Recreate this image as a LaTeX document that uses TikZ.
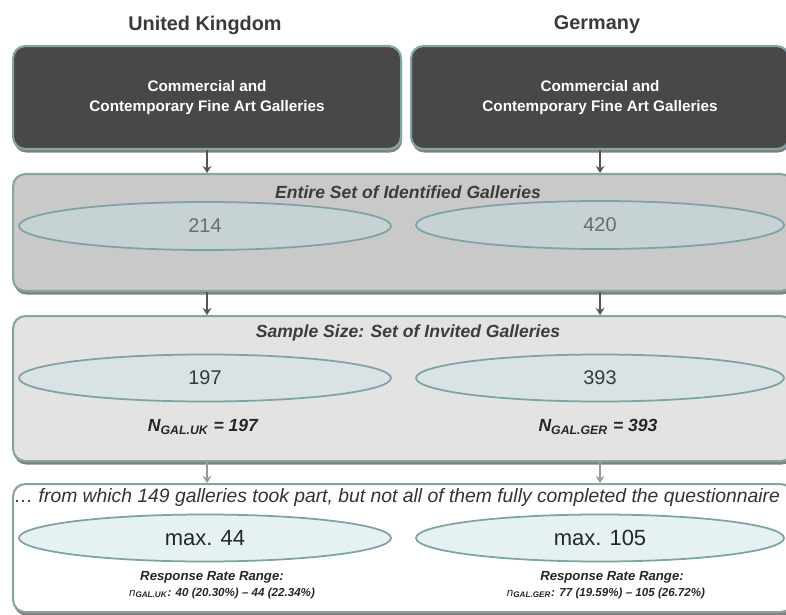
\documentclass[tikz,border=0pt]{standalone}
\usepackage{fontspec}
\setmainfont{Liberation Sans}
\usetikzlibrary{shadows,arrows.meta,shapes.geometric}

\definecolor{headtext}{HTML}{3A3A3A}
\definecolor{darkfill}{HTML}{484848}
\definecolor{rimcol}{HTML}{86A3A5}
\definecolor{grayfill}{HTML}{C9C9C9}
\definecolor{lightfill}{HTML}{E3E3E3}
\definecolor{ellrim}{HTML}{7FA3A5}
\definecolor{ellA}{HTML}{C6D2D4}
\definecolor{ellB}{HTML}{D9E3E5}
\definecolor{ellC}{HTML}{E6F1F1}
\definecolor{titletext}{HTML}{3C3C3C}
\definecolor{arrowdark}{HTML}{555555}
\definecolor{arrowlight}{HTML}{9A9A9A}

\newcommand{\fs}[1]{\fontsize{#1}{#1}\selectfont}

\begin{document}
\begin{tikzpicture}[x=0.02cm,y=-0.02cm,
  panel/.style={draw=rimcol, line width=1.2pt, rounded corners=7pt,
    anchor=north west, inner sep=0pt,
    drop shadow={shadow xshift=0.6pt, shadow yshift=-2pt, opacity=0.7, fill=black!70}},
  heading/.style={font=\fs{11.3pt}\bfseries, text=headtext},
  oval/.style={ellipse, draw=ellrim, line width=1pt, inner sep=0pt},
  paneltitle/.style={font=\fs{10pt}\bfseries\itshape, text=titletext},
  count/.style={font=\fs{11.3pt}},
  note/.style={font=\fs{7.5pt}\bfseries\itshape, text=black!85},
  flowarrow/.style={line width=1.2pt, -{Stealth[length=4pt,width=5pt]}},
]
\useasboundingbox (0,0) rectangle (786,614);

% column headings
\node[heading] (hUK) at (205,25) {United Kingdom};
\node[heading] (hGER) at (597,25) {Germany};

% source populations
\node[panel, fill=darkfill, minimum width=388*0.02cm, minimum height=103*0.02cm] (srcUK) at (12,45) {};
\node[panel, fill=darkfill, minimum width=378*0.02cm, minimum height=103*0.02cm] (srcGER) at (410,45) {};
\node[font=\fs{8.7pt}\bfseries, text=white, align=center] (srcUKt) at (srcUK.center) {Commercial and\\[3pt]Contemporary Fine Art Galleries};
\node[font=\fs{8.7pt}\bfseries, text=white, align=center] (srcGERt) at (srcGER.center) {Commercial and\\[3pt]Contemporary Fine Art Galleries};

% entire set of identified galleries
\node[panel, fill=grayfill, minimum width=780*0.02cm, minimum height=117*0.02cm] (ident) at (12,173) {};
\node[paneltitle] (identT) at (408,192) {Entire Set of Identified Galleries};
\node[oval, fill=ellA, minimum width=372*0.02cm, minimum height=48*0.02cm] (idUK) at (205,226) {};
\node[oval, fill=ellA, minimum width=368*0.02cm, minimum height=48*0.02cm] (idGER) at (600,225) {};
\node[count, text=black!58] (idUKn) at (idUK.center) {214};
\node[count, text=black!58] (idGERn) at (idGER.center) {420};

% invited galleries
\node[panel, fill=lightfill, minimum width=780*0.02cm, minimum height=145*0.02cm] (inv) at (12,315) {};
\node[paneltitle] (invT) at (408,333) {Sample Size: Set of Invited Galleries};
\node[oval, fill=ellB, minimum width=372*0.02cm, minimum height=47*0.02cm] (invUK) at (205,378) {};
\node[oval, fill=ellB, minimum width=368*0.02cm, minimum height=47*0.02cm] (invGER) at (600,378) {};
\node[count, text=black!78] (invUKn) at (invUK.center) {197};
\node[count, text=black!78] (invGERn) at (invGER.center) {393};
\node[font=\fs{10pt}\bfseries\itshape, text=black!85] (nUK) at (203,427) {N\textsubscript{GAL.UK} = 197};
\node[font=\fs{10pt}\bfseries\itshape, text=black!85] (nGER) at (598,427) {N\textsubscript{GAL.GER} = 393};

% responding galleries
\node[panel, fill=white, minimum width=780*0.02cm, minimum height=128*0.02cm] (resp) at (12,483) {};
\node[font=\fs{11pt}\itshape, text=black!80] (respT) at (397,497) {\dots\ from which 149 galleries took part, but not all of them fully completed the questionnaire};
\node[oval, fill=ellC, minimum width=372*0.02cm, minimum height=47*0.02cm] (respUK) at (205,538) {};
\node[oval, fill=ellC, minimum width=368*0.02cm, minimum height=47*0.02cm] (respGER) at (600,538) {};
\node[font=\fs{12.5pt}, text=black!85] (respUKn) at (respUK.center) {max. 44};
\node[font=\fs{12.5pt}, text=black!85] (respGERn) at (respGER.center) {max. 105};
\node[note] (rrUK) at (212,577) {Response Rate Range:};
\node[note] (rrGER) at (612,577) {Response Rate Range:};
\node[note, font=\fs{6.6pt}\bfseries\itshape] (rrUKv) at (222,593) {\textmd{n}\textsubscript{GAL.UK}: 40 (20.30\%) -- 44 (22.34\%)};
\node[note, font=\fs{6.6pt}\bfseries\itshape] (rrGERv) at (606,593) {\textmd{n}\textsubscript{GAL.GER}: 77 (19.59\%) -- 105 (26.72\%)};

% flow between the stages
\draw[flowarrow, arrowdark] (srcUK.south) -- (srcUK.south |- ident.north);
\draw[flowarrow, arrowdark] (srcGER.south) -- (srcGER.south |- ident.north);
\draw[flowarrow, arrowdark] (ident.south -| srcUK.south) -- (inv.north -| srcUK.south);
\draw[flowarrow, arrowdark] (ident.south -| srcGER.south) -- (inv.north -| srcGER.south);
\draw[flowarrow, arrowlight] (inv.south -| srcUK.south) -- (resp.north -| srcUK.south);
\draw[flowarrow, arrowlight] (inv.south -| srcGER.south) -- (resp.north -| srcGER.south);
\end{tikzpicture}
\end{document}
